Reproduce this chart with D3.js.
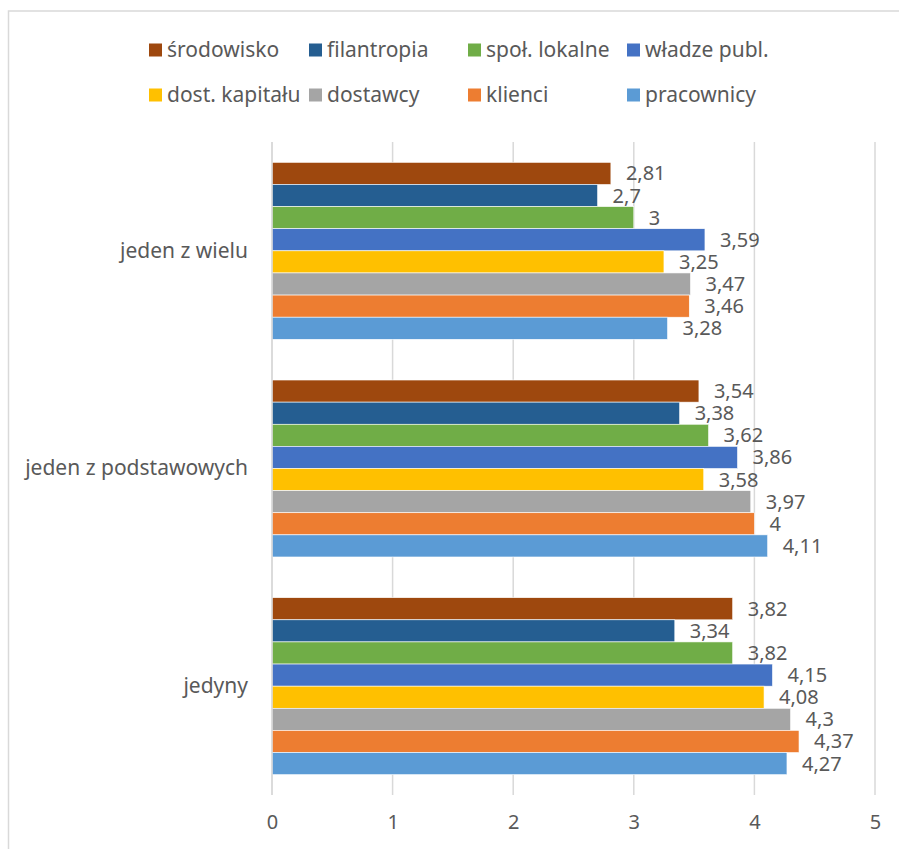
<!DOCTYPE html>
<html>
<head>
<meta charset="utf-8">
<script src="https://cdn.jsdelivr.net/npm/d3@7"></script>
<style>
  html, body { margin: 0; padding: 0; background: #fff; }
  svg { display: block; }
  text { font-family: "Noto Sans", "Open Sans", sans-serif; fill: #595959; }
</style>
</head>
<body>
<svg id="chart" width="899" height="849"></svg>
<script>
// Categories (top to bottom)
const categories = ["jeden z wielu", "jeden z podstawowych", "jedyny"];

// Series names, in drawing order inside each group
const seriesNames = ["środowisko", "filantropia", "społ. lokalne", "władze publ.",
                     "dost. kapitału", "dostawcy", "klienci", "pracownicy"];

// Values per series, one per category
const srodowisko   = [2.81, 3.54, 3.82];
const filantropia  = [2.7, 3.38, 3.34];
const spolLokalne  = [3, 3.62, 3.82];
const wladzePubl   = [3.59, 3.86, 4.15];
const dostKapitalu = [3.25, 3.58, 4.08];
const dostawcy     = [3.47, 3.97, 4.3];
const klienci      = [3.46, 4, 4.37];
const pracownicy   = [3.28, 4.11, 4.27];

const seriesValues = [srodowisko, filantropia, spolLokalne, wladzePubl,
                      dostKapitalu, dostawcy, klienci, pracownicy];

const seriesColors = ["#9E480E", "#255E91", "#70AD47", "#4472C4",
                      "#FFC000", "#A5A5A5", "#ED7D31", "#5B9BD5"];

const xTicks = [0, 1, 2, 3, 4, 5];

const svg = d3.select("#chart");

// Chart area frame
svg.append("rect")
  .attr("x", 8.5).attr("y", 11)
  .attr("width", 920).attr("height", 860)
  .attr("fill", "none")
  .attr("stroke", "#d9d9d9")
  .attr("stroke-width", 1.5);

const x = d3.scaleLinear().domain([0, 5]).range([272, 875]);
const y = d3.scaleBand().domain(categories).range([142, 795])
  .paddingInner(0.187).paddingOuter(0.0935);
const ySub = d3.scaleBand().domain(seriesNames).range([0, y.bandwidth()]);

// Vertical gridlines
svg.append("g")
  .selectAll("line")
  .data(xTicks)
  .join("line")
  .attr("x1", d => x(d)).attr("x2", d => x(d))
  .attr("y1", 142).attr("y2", 795)
  .attr("stroke", "#d9d9d9")
  .attr("stroke-width", 1.5);

// Bottom axis labels
const xAxis = d3.axisBottom(x).tickValues(xTicks).tickSize(0).tickPadding(0)
  .tickFormat(d => String(d));
const gx = svg.append("g").attr("transform", "translate(0,818)").call(xAxis);
gx.select(".domain").remove();
gx.selectAll("text")
  .attr("dy", "0.55em")
  .style("font-size", "20px")
  .style("font-family", "\"Noto Sans\", sans-serif")
  .attr("fill", "#595959");

// Category axis labels
const yAxis = d3.axisLeft(y).tickSize(0).tickPadding(24);
const gy = svg.append("g").attr("transform", "translate(272,0)").call(yAxis);
gy.select(".domain").remove();
gy.selectAll("text")
  .style("font-size", "21px")
  .style("font-family", "\"Noto Sans\", sans-serif")
  .attr("fill", "#595959");

// Bars
const fmt = v => String(v).replace(".", ",");
const groups = svg.append("g")
  .selectAll("g")
  .data(categories)
  .join("g")
  .attr("transform", c => `translate(0,${y(c)})`);

groups.each(function(c, ci) {
  const g = d3.select(this);
  const rows = seriesNames.map((s, si) => ({ s, si, v: seriesValues[si][ci] }));
  g.selectAll("rect")
    .data(rows)
    .join("rect")
    .attr("x", x(0))
    .attr("y", d => ySub(d.s))
    .attr("width", d => x(d.v) - x(0))
    .attr("height", ySub.bandwidth())
    .attr("fill", d => seriesColors[d.si])
    .attr("stroke", "#ffffff")
    .attr("stroke-width", 0.6);
  g.selectAll("text")
    .data(rows)
    .join("text")
    .attr("x", d => x(d.v) + 15)
    .attr("y", d => ySub(d.s) + ySub.bandwidth() / 2)
    .attr("dy", "0.35em")
    .style("font-size", "20px")
    .text(d => fmt(d.v));
});

// Left axis line
svg.append("line")
  .attr("x1", x(0)).attr("x2", x(0))
  .attr("y1", 142).attr("y2", 795)
  .attr("stroke", "#d9d9d9")
  .attr("stroke-width", 1.5);

// Legend: two rows of four
const legendX = [149, 309, 468, 627];
const legendY = [50, 95];
const legend = svg.append("g")
  .selectAll("g")
  .data(seriesNames)
  .join("g")
  .attr("transform", (d, i) => `translate(${legendX[i % 4]},${legendY[Math.floor(i / 4)]})`);
legend.append("rect")
  .attr("x", 0).attr("y", -6.5)
  .attr("width", 13).attr("height", 13)
  .attr("fill", (d, i) => seriesColors[i]);
legend.append("text")
  .attr("x", 18).attr("y", 0).attr("dy", "0.35em")
  .style("font-size", "21px")
  .text(d => d);
</script>
</body>
</html>
